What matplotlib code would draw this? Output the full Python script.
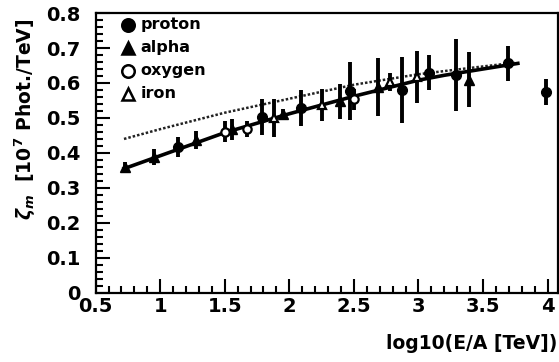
import matplotlib.pyplot as plt
import numpy as np

# measured points (log10 E/A, zeta_m, error)
p_x = [1.14, 1.79, 2.09, 2.47, 2.87, 3.08, 3.29, 3.69, 3.99]
p_y = [0.417, 0.503, 0.528, 0.578, 0.580, 0.629, 0.623, 0.657, 0.574]
p_e = [0.030, 0.052, 0.052, 0.083, 0.094, 0.050, 0.103, 0.050, 0.036]

a_x = [0.73, 0.95, 1.28, 1.56, 1.95, 2.39, 2.69, 3.39]
a_y = [0.360, 0.388, 0.437, 0.468, 0.512, 0.548, 0.589, 0.609]
a_e = [0.015, 0.022, 0.026, 0.030, 0.015, 0.050, 0.083, 0.079]

o_x = [1.50, 1.67, 2.50]
o_y = [0.460, 0.468, 0.553]
o_e = [0.030, 0.022, 0.030]

i_x = [1.88, 2.25, 2.78, 2.99]
i_y = [0.500, 0.537, 0.603, 0.617]
i_e = [0.055, 0.045, 0.025, 0.075]

# fitted curves
fit_x = [0.72, 1.0, 1.5, 2.0, 2.5, 3.0, 3.2, 3.5, 3.77]
fit_y = [0.355, 0.392, 0.458, 0.512, 0.562, 0.608, 0.622, 0.640, 0.656]
dot_x = [0.72, 1.0, 1.5, 2.0, 2.5, 3.0, 3.4, 3.75]
dot_y = [0.440, 0.468, 0.515, 0.555, 0.595, 0.625, 0.643, 0.658]

plt.rcParams['font.family'] = 'DejaVu Sans'
plt.rcParams['font.weight'] = 'bold'

fig = plt.figure(figsize=(5.59, 3.62), dpi=100)
ax = fig.add_axes([0.171, 0.191, 0.827, 0.773])

ax.plot(dot_x, dot_y, color='#222222', lw=1.8, ls=(0, (1, 0.8)))
ax.plot(fit_x, fit_y, color='black', lw=2.6)

ekw = dict(ls='none', ecolor='black', elinewidth=2.8, capsize=0, color='black')
ax.errorbar(p_x, p_y, yerr=p_e, fmt='o', ms=7, mfc='black', mec='black', **ekw)
ax.errorbar(a_x, a_y, yerr=a_e, fmt='^', ms=7, mfc='black', mec='black', **ekw)
ax.errorbar(o_x, o_y, yerr=o_e, fmt='o', ms=6, mfc='white', mec='black', mew=1.6, **ekw)
ax.errorbar(i_x, i_y, yerr=i_e, fmt='^', ms=6, mfc='white', mec='black', mew=1.6, **ekw)

# legend drawn as marker + text
leg = [('o', 'black', 'proton'), ('^', 'black', 'alpha'),
       ('o', 'white', 'oxygen'), ('^', 'white', 'iron')]
for k, (m, fc, lab) in enumerate(leg):
    yy = 0.958 - k * 0.082
    ax.plot([0.07], [yy], marker=m, ms=9, mfc=fc, mec='black', mew=1.8,
            transform=ax.transAxes, ls='none')
    ax.text(0.097, yy, lab, transform=ax.transAxes, fontsize=11.5,
            fontweight='bold', va='center', ha='left')

ax.set_xlim(0.5, 4.08)
ax.set_ylim(0, 0.8)
ax.set_xticks(np.arange(0.5, 4.01, 0.5))
ax.set_xticklabels(['0.5', '1', '1.5', '2', '2.5', '3', '3.5', '4'])
ax.set_xticks(np.arange(0.5, 4.01, 0.1), minor=True)
ax.set_yticks(np.arange(0, 0.81, 0.1))
ax.set_yticklabels(['0', '0.1', '0.2', '0.3', '0.4', '0.5', '0.6', '0.7', '0.8'])
ax.set_yticks(np.arange(0, 0.801, 0.02), minor=True)
ax.tick_params(which='both', direction='in', top=False, right=False,
               labelsize=14, width=1.5)
ax.tick_params(which='major', length=10)
ax.tick_params(which='minor', length=5)
ax.tick_params(axis='x', pad=3)
ax.tick_params(axis='y', pad=11)
for s in ax.spines.values():
    s.set_linewidth(1.6)

ax.set_ylabel(r'$\boldsymbol{\zeta_m}$  [10$^7$ Phot./TeV]', fontsize=13.5,
              fontweight='bold')
ax.yaxis.set_label_coords(-0.125, 0.62)
fig.text(0.997, 0.025, 'log10(E/A [TeV])', ha='right', va='bottom',
         fontsize=13.5, fontweight='bold')

fig.savefig('out.png', dpi=100)
